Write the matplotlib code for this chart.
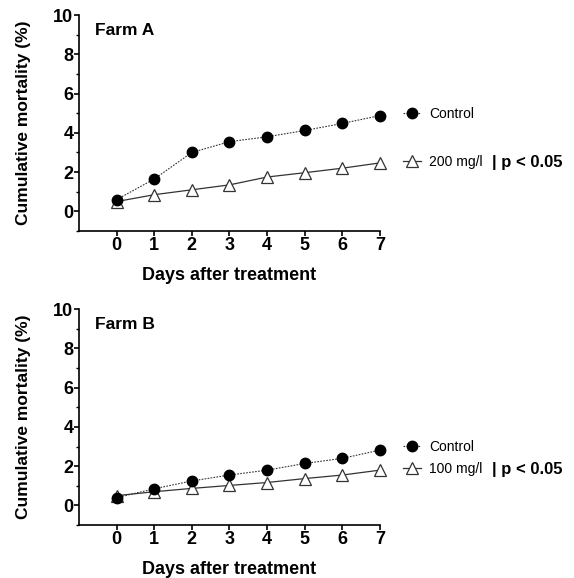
import matplotlib
matplotlib.use("Agg")
import matplotlib.pyplot as plt
from matplotlib.lines import Line2D
from matplotlib.ticker import MultipleLocator

plt.rcParams['font.family'] = ['Liberation Sans', 'DejaVu Sans']

days = [0, 1, 2, 3, 4, 5, 6, 7]

# Farm A
farm_a_control = [0.6, 1.65, 3.0, 3.55, 3.8, 4.12, 4.48, 4.88]
farm_a_treated = [0.5, 0.85, 1.1, 1.35, 1.75, 1.97, 2.2, 2.47]
farm_a_dose = "200 mg/l"

# Farm B
farm_b_control = [0.4, 0.85, 1.25, 1.55, 1.8, 2.14, 2.4, 2.82]
farm_b_treated = [0.5, 0.7, 0.87, 1.02, 1.17, 1.37, 1.55, 1.8]
farm_b_dose = "100 mg/l"

fig = plt.figure(figsize=(5.74, 5.78), dpi=100)
ax_a = fig.add_axes([0.1376, 0.6003, 0.5244, 0.3737])
ax_b = fig.add_axes([0.1376, 0.0915, 0.5244, 0.3737])

ctrl_style = dict(color='#333333', linestyle=(0, (1.5, 1.2)), linewidth=0.8,
                  marker='o', markersize=7.5, markerfacecolor='black',
                  markeredgecolor='black')
trt_style = dict(color='#333333', linestyle='-', linewidth=0.9,
                 marker='^', markersize=8.5, markerfacecolor='white',
                 markeredgecolor='#333333', markeredgewidth=0.9)


def draw_panel(ax, title, control, treated, dose, leg_y):
    ax.plot(days, treated, zorder=3, clip_on=False, **trt_style)
    ax.plot(days, control, zorder=4, clip_on=False, **ctrl_style)

    ax.set_xlim(-1, 7)
    ax.set_ylim(-1, 10)
    ax.yaxis.set_major_locator(MultipleLocator(2))
    ax.yaxis.set_minor_locator(MultipleLocator(1))
    ax.set_xticks(days)

    for side in ['top', 'right']:
        ax.spines[side].set_visible(False)
    for side in ['left', 'bottom']:
        ax.spines[side].set_linewidth(1.2)
    ax.tick_params(which='major', direction='out', length=3.5, width=1.2,
                   labelsize=13, pad=1)
    ax.tick_params(axis='y', which='major', pad=0.5)
    ax.tick_params(which='minor', direction='out', length=2.5, width=1.0)
    for lab in ax.get_xticklabels() + ax.get_yticklabels():
        lab.set_fontweight('bold')

    ax.set_xlabel('Days after treatment', fontsize=13, fontweight='bold',
                  labelpad=9)
    ax.set_ylabel('Cumulative mortality (%)', fontsize=12.5,
                  fontweight='bold', labelpad=16)
    ax.text(0.053, 0.93, title, transform=ax.transAxes, fontsize=12.5,
            fontweight='bold', va='center', ha='left')

    h_ctrl = Line2D([], [], **ctrl_style)
    h_trt = Line2D([], [], **trt_style)
    leg1 = ax.legend(handles=[h_ctrl], labels=['Control'], loc='center left',
                     bbox_to_anchor=(1.075, leg_y[0]), frameon=False,
                     borderpad=0, borderaxespad=0, handlelength=1.3,
                     handletextpad=0.6, fontsize=10)
    ax.add_artist(leg1)
    ax.legend(handles=[h_trt], labels=[dose], loc='center left',
              bbox_to_anchor=(1.075, leg_y[1]), frameon=False,
              borderpad=0, borderaxespad=0, handlelength=1.3,
              handletextpad=0.6, fontsize=10)
    ax.text(1.372, leg_y[1], '| p < 0.05', transform=ax.transAxes,
            fontsize=12, fontweight='bold', va='center', ha='left')


draw_panel(ax_a, 'Farm A', farm_a_control, farm_a_treated, farm_a_dose,
           (0.542, 0.319))
draw_panel(ax_b, 'Farm B', farm_b_control, farm_b_treated, farm_b_dose,
           (0.361, 0.259))

fig.savefig('out.png', dpi=100)
